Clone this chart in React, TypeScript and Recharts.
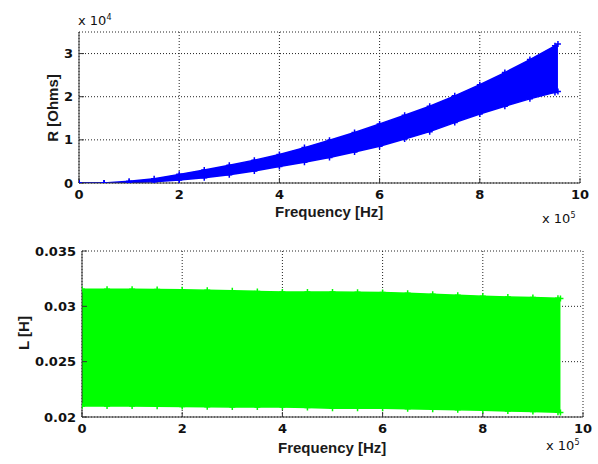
import { ComposedChart, Area, Line, XAxis, YAxis, CartesianGrid } from 'recharts'

// top panel: resistance band (x 1e4 ohms) vs frequency (x 1e5 Hz)
const rFreq = [0, 0.5, 1, 1.5, 2, 2.5, 3, 3.5, 4, 4.5, 5, 5.5, 6, 6.5, 7, 7.5, 8, 8.5, 9, 9.5, 9.56]
const rHigh = [0, 0, 0.04, 0.1, 0.2, 0.3, 0.41, 0.53, 0.66, 0.82, 0.99, 1.17, 1.37, 1.57, 1.78, 2.02, 2.28, 2.56, 2.86, 3.18, 3.22]
const rLow = [0, 0, 0.01, 0.03, 0.07, 0.12, 0.19, 0.28, 0.38, 0.48, 0.59, 0.72, 0.85, 1.02, 1.19, 1.4, 1.6, 1.78, 1.95, 2.1, 2.12]

// bottom panel: inductance band (H)
const lFreq = [0, 0.5, 1, 1.5, 2, 2.5, 3, 3.5, 4, 4.5, 5, 5.5, 6, 6.5, 7, 7.5, 8, 8.5, 9, 9.5, 9.55]
const lHigh = [0.03155, 0.03155, 0.03155, 0.03153, 0.0315, 0.03145, 0.0314, 0.03135, 0.0313, 0.0313, 0.0313, 0.03128, 0.03125, 0.03118, 0.0311, 0.031, 0.0309, 0.03085, 0.0308, 0.03072, 0.0307]
const lLow = [0.021, 0.021, 0.021, 0.02098, 0.02095, 0.02092, 0.0209, 0.0209, 0.0209, 0.02085, 0.0208, 0.0208, 0.0208, 0.02075, 0.0207, 0.02065, 0.0206, 0.02055, 0.0205, 0.02042, 0.0204]

const xTicks = [0, 2, 4, 6, 8, 10]
const rTicks = [0, 1, 2, 3]
const lTicks = [0.02, 0.025, 0.03, 0.035]

const rData = rFreq.map((f, i) => ({ f, lo: rLow[i], hi: rHigh[i] }))
const lData = lFreq.map((f, i) => ({ f, lo: lLow[i], hi: lHigh[i] }))

const FONT = '"DejaVu Sans", sans-serif'
const tickStyle = { fontSize: 13, fontWeight: 700, fill: '#111', fontFamily: FONT }
const axisLine = { stroke: '#333', strokeWidth: 1 }
const blank = () => ''

const plus = (color: string) => (p: { cx?: number; cy?: number; index?: number }) => (
  <path key={p.index} d={`M${(p.cx ?? 0) - 3},${p.cy}h6M${p.cx},${(p.cy ?? 0) - 3}v6`} stroke={color} strokeWidth={1.5} />
)

function Panel({ data, yDomain, yTicks, yWidth, margin, color, yFmt }: {
  data: { f: number; lo: number; hi: number }[]
  yDomain: [number, number]; yTicks: number[]; yWidth: number
  margin: { top: number; right: number; bottom: number; left: number }
  color: string; yFmt: (v: number) => string
}) {
  return (
    <ComposedChart width={598} height={232} data={data} margin={margin}>
      <CartesianGrid stroke="#222" strokeDasharray="1 2" />
      <XAxis xAxisId={0} dataKey="f" type="number" domain={[0, 10]} ticks={xTicks} height={30}
        tickSize={-5} tickMargin={12} tick={tickStyle} axisLine={axisLine} tickLine={axisLine} allowDataOverflow />
      <XAxis xAxisId="top" orientation="top" type="number" domain={[0, 10]} ticks={xTicks} height={0}
        tickSize={-5} tickFormatter={blank} axisLine={axisLine} tickLine={axisLine} allowDataOverflow />
      <YAxis yAxisId={0} type="number" domain={yDomain} ticks={yTicks} width={yWidth}
        tickSize={-5} tickMargin={11} tick={tickStyle} tickFormatter={yFmt} axisLine={axisLine} tickLine={axisLine} allowDataOverflow />
      <YAxis yAxisId="right" orientation="right" type="number" domain={yDomain} ticks={yTicks} width={0}
        tickSize={-5} tickFormatter={blank} axisLine={axisLine} tickLine={axisLine} allowDataOverflow />
      <Area dataKey={(d: { lo: number; hi: number }) => [d.lo, d.hi]} type="linear"
        fill={color} fillOpacity={1} stroke={color} strokeWidth={1.5} isAnimationActive={false} />
      <Line dataKey="hi" stroke="none" dot={plus(color)} activeDot={false} isAnimationActive={false} />
      <Line dataKey="lo" stroke="none" dot={plus(color)} activeDot={false} isAnimationActive={false} />
    </ComposedChart>
  )
}

const label: React.CSSProperties = { position: 'absolute', fontFamily: '"Liberation Sans", Arial, sans-serif', fontWeight: 700, fontSize: 15, color: '#1a1a1a', whiteSpace: 'nowrap' }
const expo: React.CSSProperties = { position: 'absolute', fontFamily: FONT, fontSize: 13, color: '#111', whiteSpace: 'nowrap' }

export default function App() {
  return (
    <div style={{ position: 'absolute', left: 0, top: 0, width: 598, height: 464, background: '#fff' }}>
      <div style={{ position: 'absolute', left: 0, top: 0 }}>
        <Panel data={rData} yDomain={[0, 3.5]} yTicks={rTicks} yWidth={79}
          margin={{ top: 32, right: 18, bottom: 19, left: 0 }} color="#0000ff" yFmt={(v) => String(v)} />
      </div>
      <div style={{ position: 'absolute', left: 0, top: 232 }}>
        <Panel data={lData} yDomain={[0.02, 0.035]} yTicks={lTicks} yWidth={82}
          margin={{ top: 19, right: 15, bottom: 17, left: 0 }} color="#00ff00" yFmt={(v) => String(+v.toFixed(3))} />
      </div>

      <div style={{ ...expo, left: 78, top: 13 }}>x 10<sup style={{ fontSize: 8 }}>4</sup></div>
      <div style={{ ...label, left: 275, top: 203 }}>Frequency [Hz]</div>
      <div style={{ ...expo, left: 542, top: 211 }}>x 10<sup style={{ fontSize: 8 }}>5</sup></div>
      <div style={{ ...label, left: 52, top: 108, transform: 'translate(-50%, -50%) rotate(-90deg)' }}>R [Ohms]</div>

      <div style={{ ...label, left: 278, top: 439 }}>Frequency [Hz]</div>
      <div style={{ ...expo, left: 546, top: 438 }}>x 10<sup style={{ fontSize: 8 }}>5</sup></div>
      <div style={{ ...label, left: 23, top: 333, transform: 'translate(-50%, -50%) rotate(-90deg)' }}>L [H]</div>
    </div>
  )
}
